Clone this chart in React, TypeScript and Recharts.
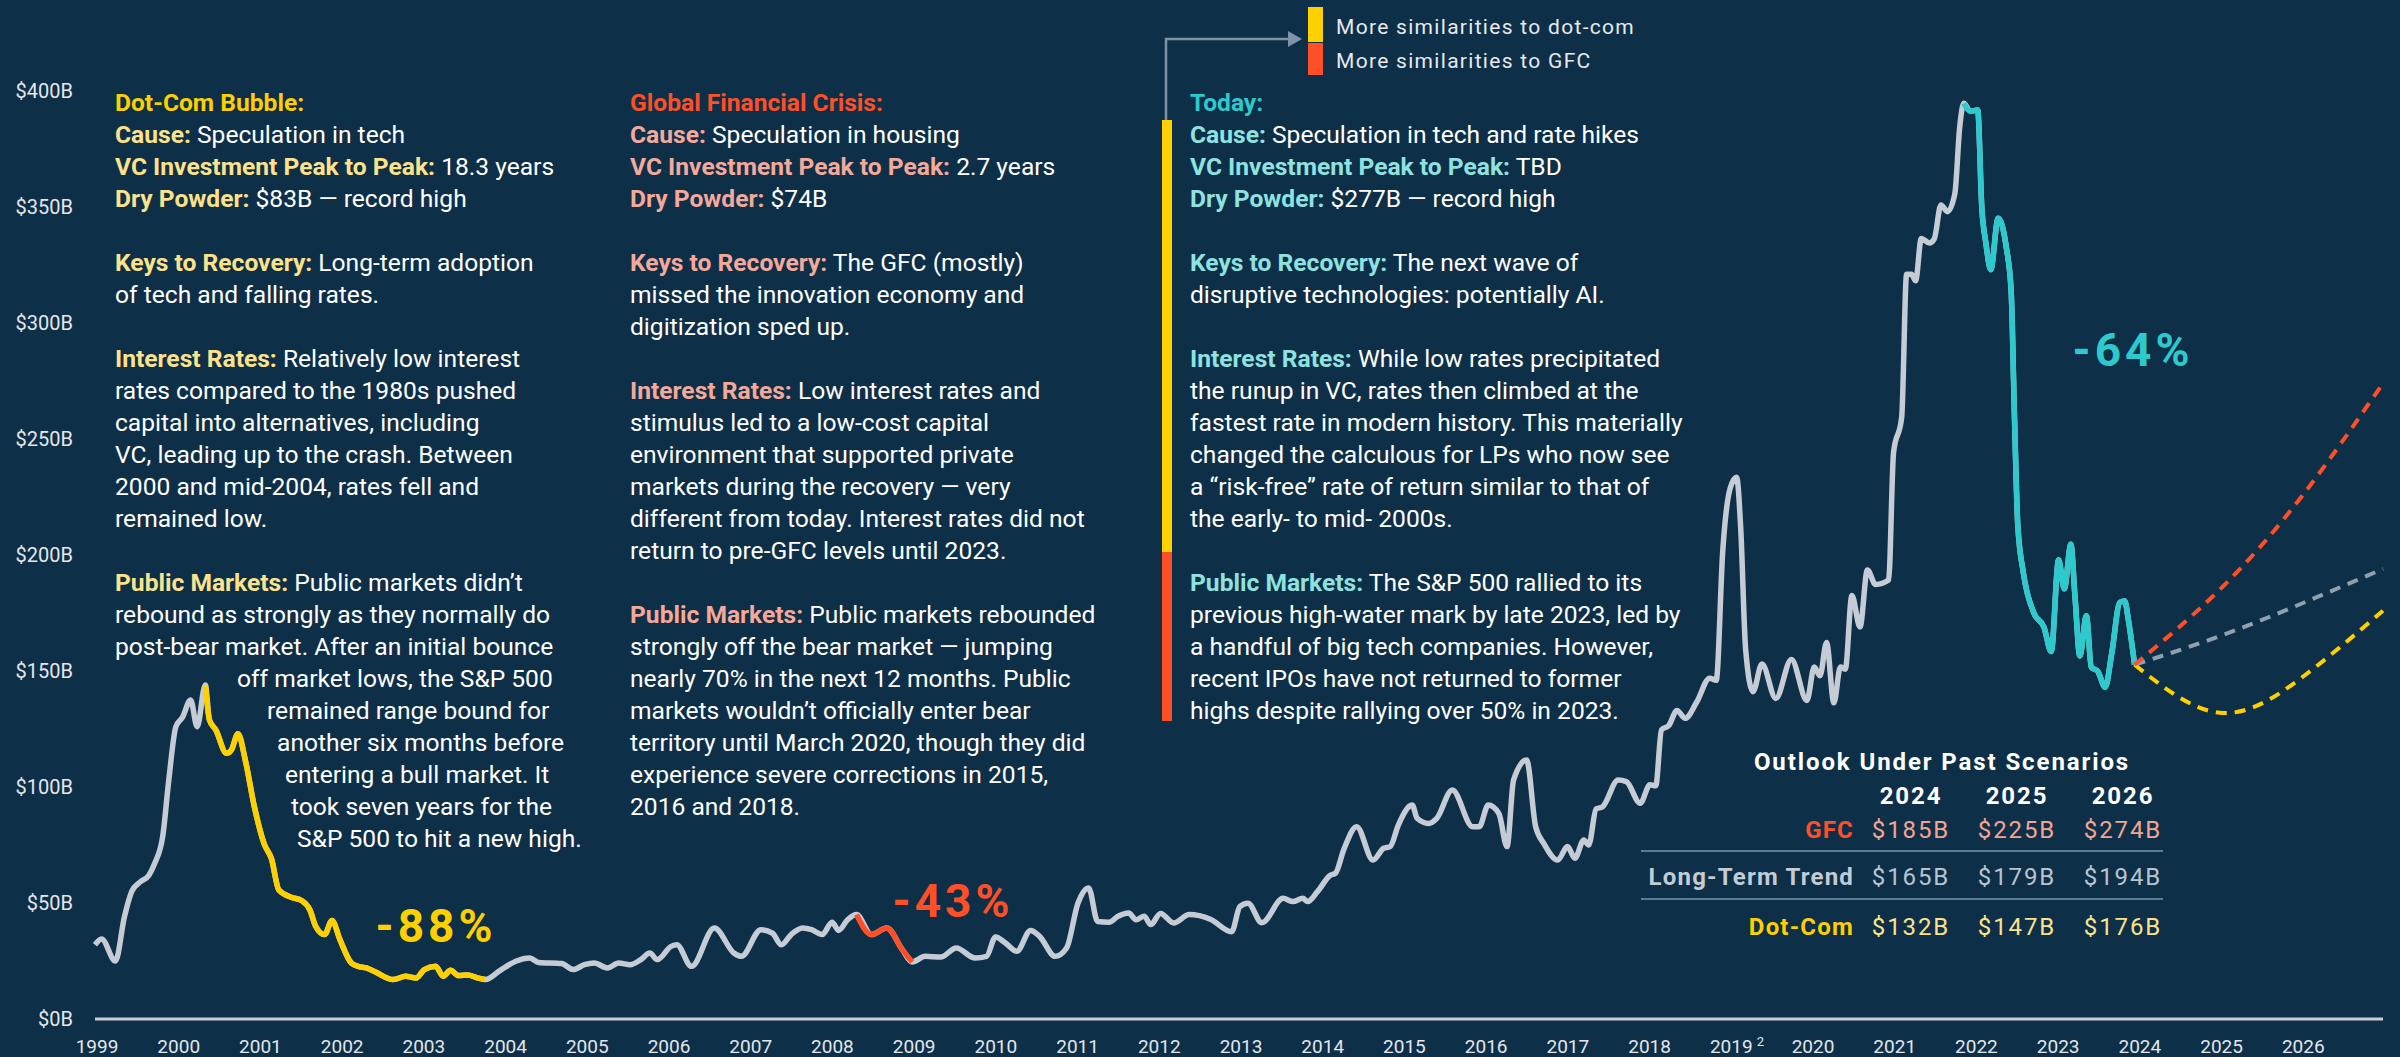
import React from 'react'
import { LineChart, Line, XAxis, YAxis } from 'recharts'

const BG = '#0e2f48'
const GREY = '#c5ccd5'
const YELLOW = '#ffd000'
const RED = '#ff4f27'
const CYAN = '#2ec9cd'
const TREND = '#8fa0b0'
const FONT = 'Roboto, "Noto Sans", sans-serif'

// VC investment, $B (decimal year)
const years = [
  1999.0, 1999.08, 1999.25, 1999.36, 1999.45, 1999.55, 1999.66, 1999.73, 1999.83, 1999.9,
  1999.99, 2000.07, 2000.17, 2000.25, 2000.35, 2000.4, 2000.48, 2000.61, 2000.67, 2000.75,
  2000.84, 2000.95, 2001.07, 2001.16, 2001.25, 2001.4, 2001.53, 2001.63, 2001.7, 2001.81,
  2001.9, 2002.0, 2002.14, 2002.22, 2002.32, 2002.42, 2002.65, 2002.8, 2002.93, 2003.03,
  2003.17, 2003.26, 2003.35, 2003.45, 2003.56, 2003.68, 2003.78, 2003.96, 2004.15, 2004.32,
  2004.43, 2004.71, 2004.85, 2004.99, 2005.11, 2005.27, 2005.41, 2005.55, 2005.68, 2005.79,
  2005.88, 2006.05, 2006.12, 2006.3, 2006.58, 2006.82, 2006.91, 2007.15, 2007.29, 2007.4,
  2007.52, 2007.66, 2007.77, 2007.9, 2008.02, 2008.1, 2008.21, 2008.32, 2008.5, 2008.69,
  2008.88, 2009.0, 2009.16, 2009.35, 2009.54, 2009.77, 2009.91, 2010.02, 2010.14, 2010.28,
  2010.45, 2010.56, 2010.75, 2010.89, 2011.03, 2011.16, 2011.27, 2011.41, 2011.52, 2011.65,
  2011.74, 2011.84, 2011.92, 2012.04, 2012.2, 2012.39, 2012.65, 2012.91, 2013.01, 2013.11,
  2013.28, 2013.54, 2013.66, 2013.78, 2013.84, 2013.96, 2014.12, 2014.18, 2014.28, 2014.44,
  2014.64, 2014.77, 2014.85, 2014.95, 2015.12, 2015.18, 2015.32, 2015.42, 2015.61, 2015.86,
  2015.94, 2016.05, 2016.18, 2016.28, 2016.36, 2016.52, 2016.63, 2016.73, 2016.9, 2017.02,
  2017.11, 2017.22, 2017.28, 2017.37, 2017.45, 2017.64, 2017.74, 2017.91, 2018.03, 2018.1,
  2018.17, 2018.26, 2018.36, 2018.46, 2018.6, 2018.76, 2018.84, 2018.92, 2019.01, 2019.09,
  2019.14, 2019.2, 2019.29, 2019.4, 2019.57, 2019.76, 2019.95, 2020.04, 2020.11, 2020.19,
  2020.28, 2020.36, 2020.42, 2020.5, 2020.6, 2020.69, 2020.79, 2020.95, 2021.01, 2021.11,
  2021.17, 2021.23, 2021.28, 2021.35, 2021.45, 2021.51, 2021.59, 2021.67, 2021.76, 2021.82,
  2021.87, 2021.95, 2022.04, 2022.09, 2022.14, 2022.2, 2022.29, 2022.39, 2022.45, 2022.49,
  2022.53, 2022.6, 2022.73, 2022.85, 2022.94, 2023.03, 2023.1, 2023.18, 2023.23, 2023.29,
  2023.37, 2023.43, 2023.51, 2023.6, 2023.68, 2023.78, 2023.84, 2023.88, 2023.96,
]
const vcInvestment = [
  32, 34.5, 25, 44, 55, 59, 62, 67, 79, 102,
  126, 130, 137.5, 126, 144, 129, 124.5, 114.5, 116, 123,
  111.5, 91.5, 75.5, 69, 55.6, 52.5, 51, 47, 40, 36.4,
  42.5, 34, 24, 22.7, 22, 20.5, 17, 18.4, 17.7, 21.3,
  22.7, 18.4, 21, 18.7, 19, 17.7, 17, 21, 24.9, 26.3,
  24.4, 23.9, 21.3, 23.4, 24.1, 22, 24.1, 23.4, 25.6, 28.4,
  25.6, 31.3, 32, 22.7, 39.2, 28.4, 27, 38.5, 37, 32,
  36.4, 39.2, 38.5, 36.4, 41.7, 38.2, 42.8, 45, 36.4, 39.2,
  29.9, 24.6, 27, 26.7, 30.6, 26.3, 27, 35.3, 32.8, 29.2,
  38.2, 35.6, 27, 30.6, 50, 56.5, 42, 41.7, 44.3, 45.7,
  42.8, 44.3, 40.7, 45.5, 41.4, 45, 43, 37.6, 48.4, 49.9,
  41.5, 52, 50.6, 52, 50.6, 54.9, 62, 62.8, 72.8, 82.9,
  68.5, 73.6, 74.3, 83.6, 92.2, 86.5, 84.3, 86.5, 98.7, 82.9,
  82.9, 92.2, 88.6, 74.3, 103, 111.6, 82.9, 75.7, 68.5, 74.3,
  69.3, 77.2, 75, 90.5, 91.5, 103, 102.3, 93, 101, 100.5,
  124.6, 126.5, 133, 129.6, 136.5, 146.9, 146, 201.7, 228.7, 233.5,
  211.4, 159.4, 141.1, 153, 138.2, 155, 137.3, 151.7, 147.9, 162.3,
  136.3, 151.7, 150.8, 182.5, 169, 193.5, 187.3, 189.2, 244.1, 259.5,
  321, 321, 318.2, 336.4, 334.5, 336.4, 350.9, 348, 355.7, 384.5,
  394.7, 391.3, 391.8, 349.9, 334.5, 323, 345.1, 332.6, 313.3, 259.5,
  213.3, 192.1, 174.8, 169, 158.4, 197.9, 185.4, 204.6, 182.5, 156.5,
  173.8, 151.7, 149.8, 143, 157.5, 179.6, 180.2, 172.9, 152.7,
]

// crash windows that get highlighted
const crashNames = ['dotSeg', 'gfcSeg', 'todaySeg']
const crashStart = [2000.35, 2008.32, 2021.87]
const crashEnd = [2003.78, 2009.0, 2023.96]
const crashColors = [YELLOW, RED, CYAN]

// outlook scenarios (year end values)
const outlookYears = [2025, 2026, 2027]
const gfcOutlook = [185, 225, 274]
const trendOutlook = [165, 179, 194]
const dotComOutlook = [132, 147, 176]

const xTicks = Array.from({ length: 28 }, (_, i) => 1999 + i)
const yTicks = [0, 50, 100, 150, 200, 250, 300, 350, 400]

const last = years.length - 1
const data: Record<string, number | null>[] = years.map((t, i) => {
  const row: Record<string, number | null> = { t, vc: vcInvestment[i] }
  crashNames.forEach((k, c) => {
    row[k] = t >= crashStart[c] - 1e-6 && t <= crashEnd[c] + 1e-6 ? vcInvestment[i] : null
  })
  row.gfc = i === last ? vcInvestment[i] : null
  row.trend = i === last ? vcInvestment[i] : null
  row.dotcom = i === last ? vcInvestment[i] : null
  return row
})
outlookYears.forEach((t, i) => {
  data.push({ t, vc: null, dotSeg: null, gfcSeg: null, todaySeg: null, gfc: gfcOutlook[i], trend: trendOutlook[i], dotcom: dotComOutlook[i] })
})

type Seg = [string, string?]
const dotLines: (Seg | null)[] = [
  ['', 'Dot-Com Bubble:'],
  ['Cause:', ' Speculation in tech'],
  ['VC Investment Peak to Peak:', ' 18.3 years'],
  ['Dry Powder:', ' $83B — record high'],
  null,
  ['Keys to Recovery:', ' Long-term adoption'],
  ['', 'of tech and falling rates.'],
  null,
  ['Interest Rates:', ' Relatively low interest'],
  ['', 'rates compared to the 1980s pushed'],
  ['', 'capital into alternatives, including'],
  ['', 'VC, leading up to the crash. Between'],
  ['', '2000 and mid-2004, rates fell and'],
  ['', 'remained low.'],
  null,
  ['Public Markets:', ' Public markets didn’t'],
  ['', 'rebound as strongly as they normally do'],
  ['', 'post-bear market. After an initial bounce'],
  ['', 'off market lows, the S&P 500'],
  ['', 'remained range bound for'],
  ['', 'another six months before'],
  ['', 'entering a bull market. It'],
  ['', 'took seven years for the'],
  ['', 'S&P 500 to hit a new high.'],
]
const dotIndent = [0, 0, 0, 0, 0, 0, 0, 0, 0, 0, 0, 0, 0, 0, 0, 0, 0, 0, 122, 152, 162, 170, 176, 182]

const gfcLines: (Seg | null)[] = [
  ['', 'Global Financial Crisis:'],
  ['Cause:', ' Speculation in housing'],
  ['VC Investment Peak to Peak:', ' 2.7 years'],
  ['Dry Powder:', ' $74B'],
  null,
  ['Keys to Recovery:', ' The GFC (mostly)'],
  ['', 'missed the innovation economy and'],
  ['', 'digitization sped up.'],
  null,
  ['Interest Rates:', ' Low interest rates and'],
  ['', 'stimulus led to a low-cost capital'],
  ['', 'environment that supported private'],
  ['', 'markets during the recovery — very'],
  ['', 'different from today. Interest rates did not'],
  ['', 'return to pre-GFC levels until 2023.'],
  null,
  ['Public Markets:', ' Public markets rebounded'],
  ['', 'strongly off the bear market — jumping'],
  ['', 'nearly 70% in the next 12 months. Public'],
  ['', 'markets wouldn’t officially enter bear'],
  ['', 'territory until March 2020, though they did'],
  ['', 'experience severe corrections in 2015,'],
  ['', '2016 and 2018.'],
]

const todayLines: (Seg | null)[] = [
  ['', 'Today:'],
  ['Cause:', ' Speculation in tech and rate hikes'],
  ['VC Investment Peak to Peak:', ' TBD'],
  ['Dry Powder:', ' $277B — record high'],
  null,
  ['Keys to Recovery:', ' The next wave of'],
  ['', 'disruptive technologies: potentially AI.'],
  null,
  ['Interest Rates:', ' While low rates precipitated'],
  ['', 'the runup in VC, rates then climbed at the'],
  ['', 'fastest rate in modern history. This materially'],
  ['', 'changed the calculous for LPs who now see'],
  ['', 'a “risk-free” rate of return similar to that of'],
  ['', 'the early- to mid- 2000s.'],
  null,
  ['Public Markets:', ' The S&P 500 rallied to its'],
  ['', 'previous high-water mark by late 2023, led by'],
  ['', 'a handful of big tech companies. However,'],
  ['', 'recent IPOs have not returned to former'],
  ['', 'highs despite rallying over 50% in 2023.'],
]

function TextBlock({ lines, left, title, label, indent }: { lines: (Seg | null)[]; left: number; title: string; label: string; indent?: number[] }) {
  return (
    <div style={{ position: 'absolute', left, top: 87, fontFamily: FONT, fontSize: 24.6, color: '#fff' }}>
      {lines.map((ln, i) => (
        <div key={i} style={{ height: 32, lineHeight: '32px', whiteSpace: 'pre', paddingLeft: indent ? indent[i] : 0 }}>
          {ln && i === 0 && <span style={{ color: title, fontWeight: 700 }}>{ln[1]}</span>}
          {ln && i > 0 && (
            <>
              {ln[0] && <span style={{ color: label, fontWeight: 700 }}>{ln[0]}</span>}
              <span>{ln[1]}</span>
            </>
          )}
        </div>
      ))}
    </div>
  )
}

const YearTick = (props: any) => {
  const { x, y, payload } = props
  return (
    <g>
      <text x={x + 2} y={y} dy="0.71em" textAnchor="middle" fill="#e3e7eb" fontSize={19} fontFamily={FONT}>
        {payload.value}
      </text>
      {payload.value === 2019 && (
        <text x={x + 31} y={y - 3} dy="0.71em" textAnchor="middle" fill="#e3e7eb" fontSize={13} fontFamily={FONT}>2</text>
      )}
    </g>
  )
}

const tableCols = ['2024', '2025', '2026']
const tableRows = [
  { name: 'GFC', values: gfcOutlook, labelColor: RED, valueColor: '#f3a594', y: 830 },
  { name: 'Long-Term Trend', values: trendOutlook, labelColor: '#c3ccd6', valueColor: '#b9c4cf', y: 877 },
  { name: 'Dot-Com', values: dotComOutlook, labelColor: YELLOW, valueColor: '#fce28a', y: 927 },
]
const colX = [1911, 2017, 2123]

function abs(x: number, y: number, extra: React.CSSProperties = {}): React.CSSProperties {
  return { position: 'absolute', left: x, top: y, transform: 'translate(-50%, -50%)', whiteSpace: 'nowrap', fontFamily: FONT, ...extra }
}

export default function App() {
  return (
    <div style={{ position: 'absolute', left: 0, top: 0, width: 2400, height: 1057, background: BG, overflow: 'hidden' }}>
      <LineChart width={2400} height={1057} data={data} margin={{ top: 91, right: 17, left: 15, bottom: 8 }}>
        <XAxis
          dataKey="t"
          type="number"
          domain={[1999, 2027]}
          ticks={xTicks}
          interval={0}
          height={30}
          tick={<YearTick />}
          tickLine={false}
          tickSize={0}
          tickMargin={21}
          axisLine={{ stroke: '#c9ced4', strokeWidth: 3 }}
        />
        <YAxis
          domain={[0, 400]}
          ticks={yTicks}
          width={80}
          axisLine={false}
          tickLine={false}
          tickSize={0}
          tickMargin={22}
          tickFormatter={v => `$${v}B`}
          tick={{ fill: '#e3e7eb', fontSize: 20, fontFamily: FONT }}
        />
        <Line type="monotone" dataKey="vc" stroke={GREY} strokeWidth={5.5} dot={false} isAnimationActive={false} />
        {crashNames.map((k, c) => (
          <Line key={k} type="monotone" dataKey={k} stroke={crashColors[c]} strokeWidth={5.5} dot={false} isAnimationActive={false} />
        ))}
        <Line type="natural" dataKey="trend" stroke={TREND} strokeWidth={4} strokeDasharray="11 8" dot={false} isAnimationActive={false} />
        <Line type="natural" dataKey="dotcom" stroke={YELLOW} strokeWidth={4} strokeDasharray="11 8" dot={false} isAnimationActive={false} />
        <Line type="natural" dataKey="gfc" stroke={RED} strokeWidth={4} strokeDasharray="11 8" dot={false} isAnimationActive={false} />
      </LineChart>

      <svg width={2400} height={1057} style={{ position: 'absolute', left: 0, top: 0, pointerEvents: 'none' }}>
        <rect x={1308} y={7} width={15} height={35} fill={YELLOW} />
        <rect x={1308} y={43} width={15} height={32} fill={RED} />
        <polyline points="1166,120 1166,39 1290,39" fill="none" stroke="#7d93a6" strokeWidth={2.5} />
        <polygon points="1288,31 1302,39 1288,47" fill="#7d93a6" />
        <rect x={1162} y={120} width={10} height={432} fill={YELLOW} />
        <rect x={1162} y={552} width={10} height={169} fill={RED} />
        <line x1={1641} x2={2163} y1={851} y2={851} stroke="#5e7a93" strokeWidth={2} />
        <line x1={1641} x2={2163} y1={899} y2={899} stroke="#5e7a93" strokeWidth={2} />
      </svg>

      <div style={{ position: 'absolute', left: 1336, top: 27, transform: 'translateY(-50%)', fontFamily: FONT, fontSize: 21, color: '#e6eaee', letterSpacing: 1.3 }}>More similarities to dot-com</div>
      <div style={{ position: 'absolute', left: 1336, top: 61, transform: 'translateY(-50%)', fontFamily: FONT, fontSize: 21, color: '#e6eaee', letterSpacing: 1.3 }}>More similarities to GFC</div>

      <TextBlock lines={dotLines} left={115} title={YELLOW} label="#fde28c" indent={dotIndent} />
      <TextBlock lines={gfcLines} left={630} title={RED} label="#f5a99a" />
      <TextBlock lines={todayLines} left={1190} title={CYAN} label="#8ee3e0" />

      <div style={abs(436, 926, { color: YELLOW, fontSize: 46, fontWeight: 700, letterSpacing: 4 })}>-88%</div>
      <div style={abs(953, 901, { color: RED, fontSize: 46, fontWeight: 700, letterSpacing: 4 })}>-43%</div>
      <div style={abs(2133, 350, { color: CYAN, fontSize: 46, fontWeight: 700, letterSpacing: 4 })}>-64%</div>

      <div style={abs(1942, 762, { color: '#fff', fontSize: 24, fontWeight: 700, letterSpacing: 1.9 })}>Outlook Under Past Scenarios</div>
      {tableCols.map((c, i) => (
        <div key={c} style={abs(colX[i], 796, { color: '#fff', fontSize: 24, fontWeight: 700, letterSpacing: 1.9 })}>{c}</div>
      ))}
      {tableRows.map(r => (
        <React.Fragment key={r.name}>
          <div style={{ position: 'absolute', right: 2400 - 1854, top: r.y, transform: 'translateY(-50%)', whiteSpace: 'nowrap', fontFamily: FONT, fontSize: 24, fontWeight: 700, letterSpacing: 1.2, color: r.labelColor }}>{r.name}</div>
          {r.values.map((v, i) => (
            <div key={i} style={abs(colX[i], r.y, { color: r.valueColor, fontSize: 24, letterSpacing: 1.9 })}>{`$${v}B`}</div>
          ))}
        </React.Fragment>
      ))}
    </div>
  )
}
